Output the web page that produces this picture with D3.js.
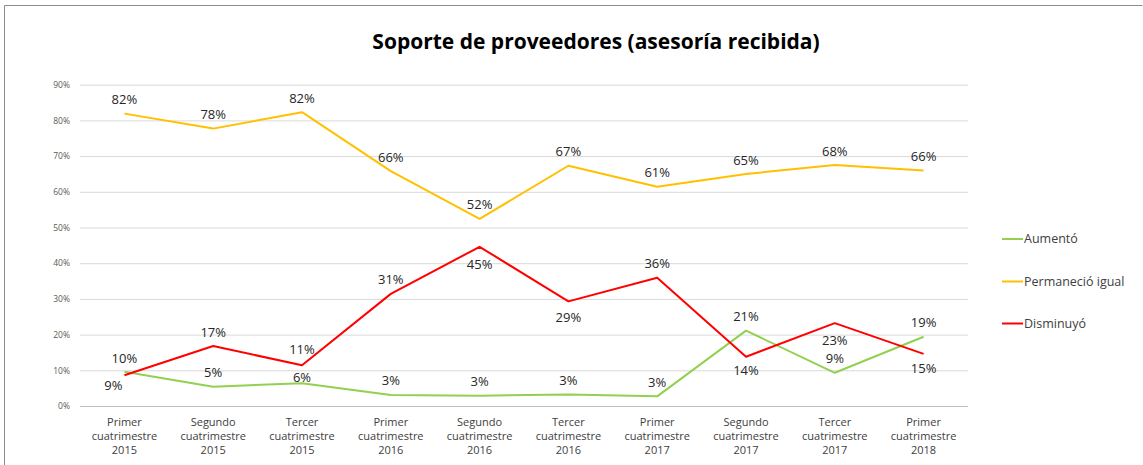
<!DOCTYPE html>
<html>
<head>
<meta charset="utf-8">
<script src="https://cdn.jsdelivr.net/npm/d3@7"></script>
<style>
  html, body { margin: 0; padding: 0; background: #fff; }
  svg { display: block; font-family: "Open Sans", "Liberation Sans", sans-serif; }
</style>
</head>
<body>
<svg id="chart" width="1143" height="465"></svg>
<script>
// Quarter (cuatrimestre) labels, one line per array entry
const categories = [
  ["Primer", "cuatrimestre", "2015"],
  ["Segundo", "cuatrimestre", "2015"],
  ["Tercer", "cuatrimestre", "2015"],
  ["Primer", "cuatrimestre", "2016"],
  ["Segundo", "cuatrimestre", "2016"],
  ["Tercer", "cuatrimestre", "2016"],
  ["Primer", "cuatrimestre", "2017"],
  ["Segundo", "cuatrimestre", "2017"],
  ["Tercer", "cuatrimestre", "2017"],
  ["Primer", "cuatrimestre", "2018"]
];

const seriesNames = ["Aumentó", "Permaneció igual", "Disminuyó"];

// Share of respondents, in percent
const aumento     = [9.6, 5.4, 6.4, 3.1, 2.9, 3.2, 2.7, 21.1, 9.3, 19.4];
const permanecio  = [81.9, 77.7, 82.3, 65.8, 52.4, 67.3, 61.4, 65.0, 67.5, 66.0];
const disminuyo   = [8.6, 16.8, 11.4, 31.4, 44.6, 29.3, 35.9, 13.8, 23.2, 14.6];

const yTicks = [0, 10, 20, 30, 40, 50, 60, 70, 80, 90];

// Vertical distance (px) from each point to its value label; negative = above
const offAumento    = [-13, -14, -6, -14, -14, -14, -14, -14, -14, -14];
const offPermanecio = [-14, -14, -14, -14, -14, -14, -14, -14, -14, -14];
const offDisminuyo  = [10, -14, -16, -14, 18, 16, -14, 14, 17, 15];
// Horizontal nudge (px) for value labels
const dxDisminuyo   = [-11, 0, 0, 0, 0, 0, 0, 0, 0, 0];

const colors = ["#92d050", "#ffc000", "#ff0000"];

const zeros = categories.map(() => 0);
const series = [
  { name: seriesNames[0], values: aumento, off: offAumento, dx: zeros, color: colors[0] },
  { name: seriesNames[1], values: permanecio, off: offPermanecio, dx: zeros, color: colors[1] },
  { name: seriesNames[2], values: disminuyo, off: offDisminuyo, dx: dxDisminuyo, color: colors[2] }
];

const svg = d3.select("#chart");
const plot = { left: 80, right: 968, top: 84.7, bottom: 406 };

// Outer frame
svg.append("path")
  .attr("d", "M4.5,470 V5.5 H1142.5")
  .attr("fill", "none")
  .attr("stroke", "#8c8c8c")
  .attr("stroke-width", 1);

// Title
svg.append("text")
  .attr("x", 596)
  .attr("y", 49)
  .attr("text-anchor", "middle")
  .attr("font-size", 21)
  .attr("font-weight", "bold")
  .attr("fill", "#000")
  .text("Soporte de proveedores (asesoría recibida)");

const x = d3.scaleBand()
  .domain(d3.range(categories.length))
  .range([plot.left, plot.right]);

const y = d3.scaleLinear()
  .domain([0, 90])
  .range([plot.bottom, plot.top]);

// Horizontal gridlines
const yAxis = d3.axisLeft(y)
  .tickValues(yTicks)
  .tickSize(-(plot.right - plot.left))
  .tickFormat(d => d + "%");

const gy = svg.append("g")
  .attr("transform", `translate(${plot.left},0)`)
  .call(yAxis);
gy.select(".domain").remove();
gy.selectAll(".tick line")
  .attr("stroke", d => d === 0 ? "#bfbfbf" : "#d9d9d9")
  .attr("stroke-width", 1);
gy.selectAll(".tick text")
  .attr("x", -10)
  .attr("font-size", 8.5)
  .attr("fill", "#595959")
  .attr("font-family", "'Open Sans', sans-serif");

// Category axis labels (three lines each)
const gx = svg.append("g");
categories.forEach((lines, i) => {
  const t = gx.append("text")
    .attr("x", x(i) + x.bandwidth() / 2)
    .attr("y", 425.5)
    .attr("text-anchor", "middle")
    .attr("font-size", 11)
    .attr("fill", "#404040");
  lines.forEach((ln, j) => {
    t.append("tspan")
      .attr("x", x(i) + x.bandwidth() / 2)
      .attr("dy", j === 0 ? 0 : 14)
      .text(ln);
  });
});

// Lines
const line = d3.line()
  .x((d, i) => x(i) + x.bandwidth() / 2)
  .y(d => y(d));

series.forEach(s => {
  svg.append("path")
    .datum(s.values)
    .attr("fill", "none")
    .attr("stroke", s.color)
    .attr("stroke-width", 2)
    .attr("stroke-linejoin", "round")
    .attr("d", line);
});

// Value labels
series.forEach(s => {
  svg.append("g")
    .selectAll("text")
    .data(s.values)
    .join("text")
    .attr("x", (d, i) => x(i) + x.bandwidth() / 2 + s.dx[i])
    .attr("y", (d, i) => y(d) + s.off[i])
    .attr("dy", "0.35em")
    .attr("text-anchor", "middle")
    .attr("font-size", 13)
    .attr("fill", "#262626")
    .text(d => Math.round(d) + "%");
});

// Legend
const legend = svg.append("g");
const legendY = [239, 281.5, 323.5];
series.forEach((s, i) => {
  legend.append("line")
    .attr("x1", 1002).attr("x2", 1023)
    .attr("y1", legendY[i]).attr("y2", legendY[i])
    .attr("stroke", s.color)
    .attr("stroke-width", 2);
  legend.append("text")
    .attr("x", 1024)
    .attr("y", legendY[i])
    .attr("dy", "0.35em")
    .attr("font-size", 12.5)
    .attr("fill", "#404040")
    .text(s.name);
});
</script>
</body>
</html>
